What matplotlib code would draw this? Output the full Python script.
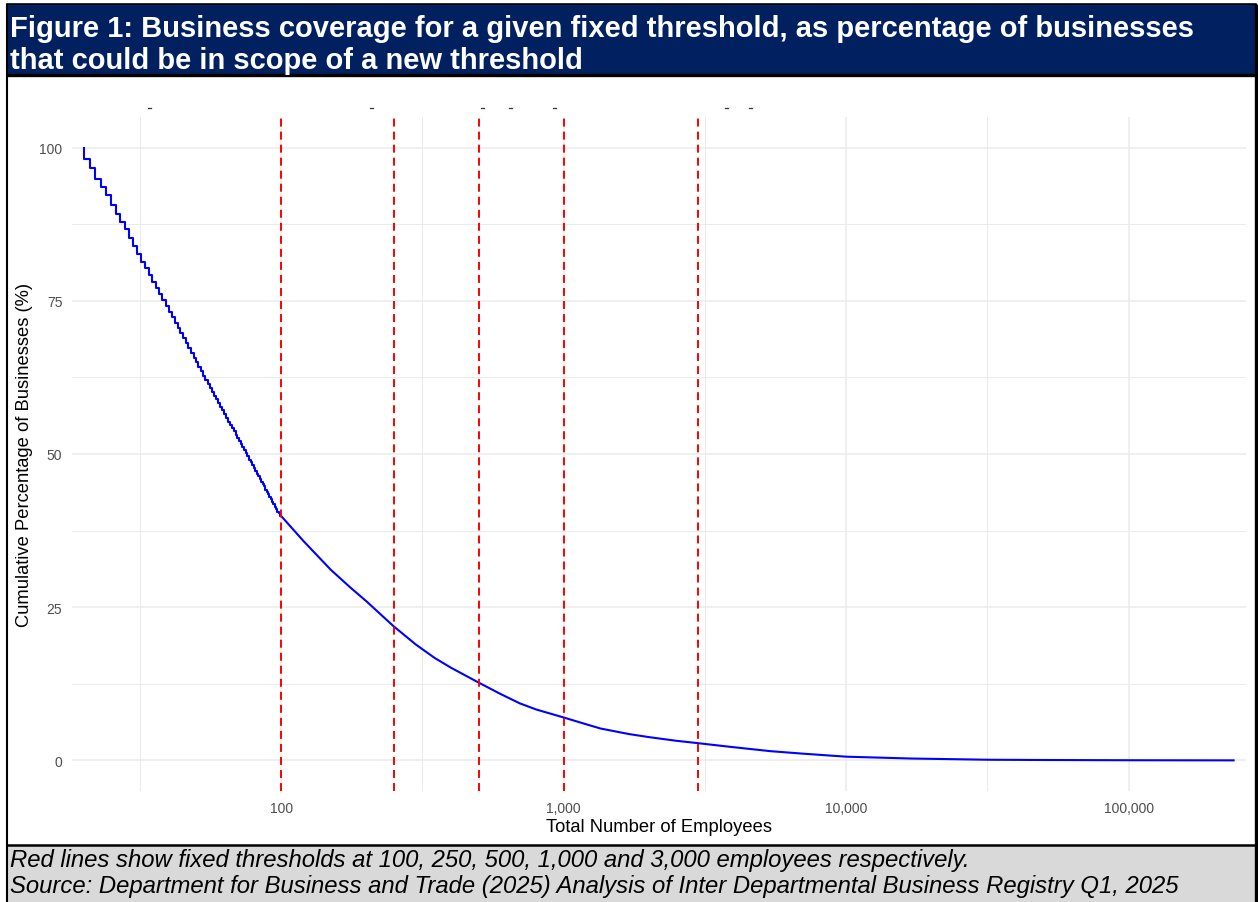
import matplotlib
matplotlib.use("Agg")
import matplotlib.pyplot as plt
from matplotlib.patches import Rectangle
from matplotlib.ticker import FixedLocator, FuncFormatter

plt.rcParams['font.family'] = ['Liberation Sans', 'DejaVu Sans']

# ---- data -------------------------------------------------------------
# Cumulative share of businesses at or above each employee count (integer steps)
step_employees = list(range(20, 101))
step_pct = [
    100.0, 98.2, 96.6, 94.9, 93.6, 92.2, 90.7, 89.2, 87.9, 86.7,
    85.2, 84.0, 82.7, 81.4, 80.3, 79.2, 78.1, 77.1, 76.1, 75.1,
    74.1, 73.2, 72.3, 71.4, 70.5, 69.7, 68.9, 68.1, 67.3, 66.5,
    65.7, 65.0, 64.2, 63.5, 62.8, 62.1, 61.4, 60.8, 60.1, 59.5,
    58.9, 58.3, 57.7, 57.1, 56.5, 55.9, 55.3, 54.8, 54.2, 53.7,
    53.1, 52.6, 52.1, 51.6, 51.1, 50.6, 50.1, 49.6, 49.1, 48.7,
    48.2, 47.7, 47.3, 46.8, 46.4, 45.9, 45.5, 45.1, 44.7, 44.2,
    43.8, 43.4, 43.0, 42.6, 42.2, 41.8, 41.4, 41.0, 40.6, 40.3,
    39.9,
]

# Larger businesses
tail_employees = [100, 120, 150, 175, 200, 250, 300, 350, 400, 500,
                  600, 700, 800, 1000, 1200, 1350, 1700, 2000, 2500, 3000,
                  3900, 5400, 7000, 10000, 17000, 32000, 50000, 100000, 235000]
tail_pct = [39.9, 35.8, 31.1, 28.3, 26.0, 21.9, 18.9, 16.7, 15.1, 12.7,
            10.8, 9.3, 8.3, 7.0, 5.9, 5.2, 4.3, 3.8, 3.2, 2.8,
            2.2, 1.5, 1.1, 0.6, 0.3, 0.1, 0.06, 0.02, 0.0]

thresholds = [100, 250, 500, 1000, 3000]

x_ticks = [100, 1000, 10000, 100000]
x_minor = [31.62, 316.2, 3162, 31623]
y_ticks = [0, 25, 50, 75, 100]
y_minor = [12.5, 37.5, 62.5, 87.5]

title_lines = [
    "Figure 1: Business coverage for a given fixed threshold, as percentage of businesses",
    "that could be in scope of a new threshold",
]
footer_lines = [
    "Red lines show fixed thresholds at 100, 250, 500, 1,000 and 3,000 employees respectively.",
    "Source: Department for Business and Trade (2025) Analysis of Inter Departmental Business Registry Q1, 2025",
]

# ---- figure -----------------------------------------------------------
W, H = 1258, 903
fig = plt.figure(figsize=(W / 100, H / 100), dpi=100)

# page layer in pixel coordinates
bg = fig.add_axes([0, 0, 1, 1])
bg.set_xlim(0, W)
bg.set_ylim(H, 0)
bg.axis('off')

navy = '#002060'
bg.add_patch(Rectangle((7, 4.5), 1249, 71, facecolor=navy, edgecolor='black', lw=1.2))
bg.plot([7, 1256], [75.5, 75.5], color='black', lw=2.4, solid_capstyle='butt')
bg.add_patch(Rectangle((7, 847), 1249, 60, facecolor='#d9d9d9', edgecolor='none'))
bg.plot([7, 1256], [846.5, 846.5], color='black', lw=1.8, solid_capstyle='butt')
bg.plot([7, 7], [4.5, 903], color='black', lw=1.5, solid_capstyle='butt')
bg.plot([1255.5, 1255.5], [4.5, 903], color='black', lw=2.4, solid_capstyle='butt')

# clipped remnants of a sub-heading line
for sx in [149, 371, 482, 510, 554, 726, 750]:
    bg.plot([sx - 1.5, sx + 1.5], [108.5, 108.5], color='#333333', lw=0.9)

bg.text(10, 37, title_lines[0], color='white', fontsize=21, fontweight='bold',
        va='baseline', ha='left')
bg.text(10, 69, title_lines[1], color='white', fontsize=21, fontweight='bold',
        va='baseline', ha='left')

bg.text(10, 867, footer_lines[0], color='black', fontsize=17.2, style='italic',
        va='baseline', ha='left')
bg.text(10, 893, footer_lines[1], color='black', fontsize=17.2, style='italic',
        va='baseline', ha='left')

# ---- chart panel ------------------------------------------------------
left, right, top, bottom = 72, 1246, 118, 792
ax = fig.add_axes([left / W, 1 - bottom / H, (right - left) / W, (bottom - top) / H])
ax.set_facecolor('none')
ax.set_xscale('log')
ax.set_xlim(18.2, 260000)
ax.set_ylim(-5, 105)

for s in ax.spines.values():
    s.set_visible(False)

grid_c = '#ebebeb'
for v in x_ticks:
    ax.axvline(v, color=grid_c, lw=1.1, zorder=0)
for v in x_minor:
    ax.axvline(v, color=grid_c, lw=0.7, zorder=0)
for v in y_ticks:
    ax.axhline(v, color=grid_c, lw=1.1, zorder=0)
for v in y_minor:
    ax.axhline(v, color=grid_c, lw=0.7, zorder=0)

ax.plot(step_employees, step_pct, drawstyle='steps-pre', color='#0000ff', lw=1.5, zorder=3)
ax.plot(tail_employees, tail_pct, color='#0000ff', lw=1.5, zorder=3)

for t in thresholds:
    ax.axvline(t, color='#ff0000', lw=1.4, linestyle=(0, (4.1, 2.6)), zorder=4)

ax.xaxis.set_major_locator(FixedLocator(x_ticks))
ax.xaxis.set_minor_locator(FixedLocator([]))
ax.xaxis.set_major_formatter(FuncFormatter(lambda v, p: f"{int(round(v)):,}"))
ax.yaxis.set_major_locator(FixedLocator(y_ticks))
ax.tick_params(axis='both', length=0, pad=7, labelsize=10, labelcolor='#4d4d4d')

fig.text((left + right) / 2 / W, 1 - 828 / H, "Total Number of Employees",
         ha='center', va='center', fontsize=13.2, color='black')
fig.text(25 / W, 1 - (top + bottom) / 2 / H, "Cumulative Percentage of Businesses (%)",
         ha='center', va='center', rotation=90, fontsize=13.2, color='black')

fig.savefig('out.png', dpi=100)
